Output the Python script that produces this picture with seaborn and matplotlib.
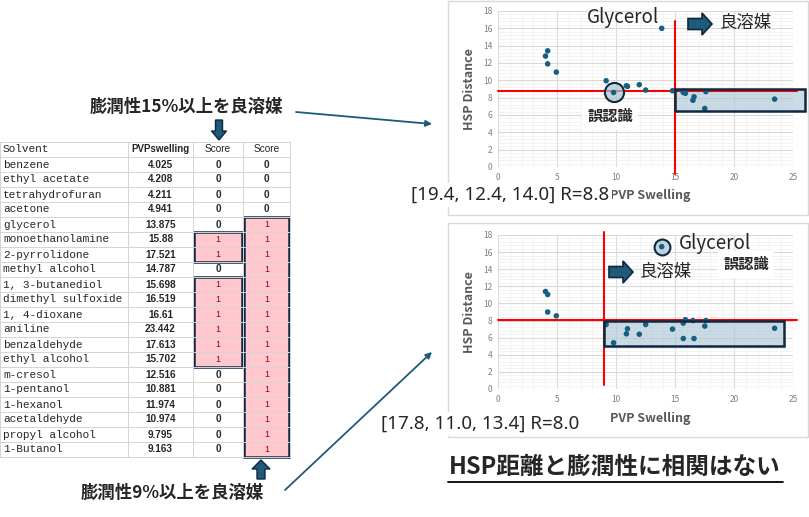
import matplotlib
matplotlib.use('Agg')
import matplotlib.pyplot as plt
import matplotlib.patches as mpatches
from matplotlib.ticker import MultipleLocator
import seaborn as sns
import pandas as pd

# Daten aus der Tabelle
solvents = ['benzene', 'ethyl acetate', 'tetrahydrofuran', 'acetone',
            'glycerol', 'monoethanolamine', '2-pyrrolidone', 'methyl alcohol',
            '1, 3-butanediol', 'dimethyl sulfoxide', '1, 4-dioxane', 'aniline',
            'benzaldehyde', 'ethyl alcohol', 'm-cresol', '1-pentanol',
            '1-hexanol', 'acetaldehyde', 'propyl alcohol', '1-Butanol']
swelling_text = ['4.025', '4.208', '4.211', '4.941', '13.875', '15.88',
                 '17.521', '14.787', '15.698', '16.519', '16.61', '23.442',
                 '17.613', '15.702', '12.516', '10.881', '11.974', '10.974',
                 '9.795', '9.163']
score_15 = [0, 0, 0, 0, 0, 1, 1, 0, 1, 1, 1, 1, 1, 1, 0, 0, 0, 0, 0, 0]
score_9 = [0, 0, 0, 0, 1, 1, 1, 1, 1, 1, 1, 1, 1, 1, 1, 1, 1, 1, 1, 1]
headers = ['Solvent', 'PVPswelling', 'Score', 'Score']

# HSP-Abstand, Zentrum [19.4, 12.4, 14.0]
hsp_dist_a = [12.8, 11.9, 13.4, 10.95, 16.0, 8.5, 6.75, 8.8, 8.75, 7.7,
              8.1, 7.83, 8.7, 8.6, 8.87, 9.37, 9.5, 9.3, 8.6, 9.95]
# HSP-Abstand, Zentrum [17.8, 11.0, 13.4]
hsp_dist_b = [11.4, 9.0, 11.05, 8.55, 16.64, 8.1, 7.35, 7.0, 7.7, 8.0,
              5.9, 7.1, 8.0, 5.9, 7.54, 6.45, 6.4, 7.04, 5.4, 7.54]

swelling = [float(s) for s in swelling_text]
df = pd.DataFrame({'Solvent': solvents, 'PVP Swelling': swelling,
                   'dist_a': hsp_dist_a, 'dist_b': hsp_dist_b})

sns.set_theme(style='white')
plt.rcParams['font.family'] = ['Noto Sans CJK JP', 'DejaVu Sans']

W, H = 809, 517
fig = plt.figure(figsize=(W / 100, H / 100), dpi=100)
fig.patch.set_facecolor('white')

# Hintergrund-Achse in Pixelkoordinaten
bg = fig.add_axes([0, 0, 1, 1], zorder=-1)
bg.set_xlim(0, W)
bg.set_ylim(H, 0)
bg.axis('off')

NAVY = '#0e2841'
TEAL = '#1f5a78'
DOT = '#156082'
PINK = '#ffc7ce'
DARKRED = '#9c0006'

# Tabelle
col_edges = [0, 128, 193, 243, 290]
TOP = 142
ROW_H = 15
n_rows = len(solvents) + 1


def row_y(i):
    return TOP + ROW_H * i


for c, scores in [(2, score_15), (3, score_9)]:
    for i, s in enumerate(scores):
        if s == 1:
            bg.add_patch(mpatches.Rectangle(
                (col_edges[c], row_y(i + 1)), col_edges[c + 1] - col_edges[c],
                ROW_H, facecolor=PINK, edgecolor='none'))

for k in range(n_rows + 1):
    bg.plot([0, col_edges[-1]], [row_y(k), row_y(k)], color='#d4d4d4', lw=0.7)
for x in col_edges:
    bg.plot([x, x], [row_y(0), row_y(n_rows)], color='#d4d4d4', lw=0.7)

for c, h in enumerate(headers):
    if c == 0:
        bg.text(3, row_y(0) + ROW_H / 2, h, family='Liberation Mono',
                fontsize=8, va='center', ha='left')
    else:
        bg.text((col_edges[c] + col_edges[c + 1]) / 2, row_y(0) + ROW_H / 2,
                h, family='Liberation Sans', fontsize=7.3 if c > 1 else 7,
                weight='bold' if c == 1 else 'normal', va='center',
                ha='center')


def score_text(ax, x, y, s):
    if s == 1:
        ax.text(x, y, '1', family='Liberation Sans', fontsize=6.5,
                color=DARKRED, va='center', ha='center')
    else:
        ax.text(x, y, '0', family='Liberation Sans', fontsize=7.2,
                weight='bold', va='center', ha='center')


for i in range(len(solvents)):
    yc = row_y(i + 1) + ROW_H / 2
    bg.text(3, yc, solvents[i], family='Liberation Mono', fontsize=8,
            va='center', ha='left')
    bg.text((col_edges[1] + col_edges[2]) / 2, yc, swelling_text[i],
            family='Liberation Sans', fontsize=7.2, weight='bold',
            va='center', ha='center')
    score_text(bg, (col_edges[2] + col_edges[3]) / 2, yc, score_15[i])
    score_text(bg, (col_edges[3] + col_edges[4]) / 2, yc, score_9[i])

# Rahmen um zusammenhängende 1er-Blöcke
for c, scores in [(2, score_15), (3, score_9)]:
    start = None
    for i, s in enumerate(scores + [0]):
        if s == 1 and start is None:
            start = i
        elif s != 1 and start is not None:
            bg.add_patch(mpatches.Rectangle(
                (col_edges[c] + 1, row_y(start + 1)),
                col_edges[c + 1] - col_edges[c] - 2,
                ROW_H * (i - start), fill=False, edgecolor=NAVY, lw=1.8))
            start = None

# Rahmen der Diagramme
bg.add_patch(mpatches.Rectangle((448, 1), 360, 214, fill=False,
                                edgecolor='#d9d9d9', lw=1))
bg.add_patch(mpatches.Rectangle((448, 223), 360, 214, fill=False,
                                edgecolor='#d9d9d9', lw=1))


def style_chart(ax, xlabel_y):
    ax.set_xlim(0, 25)
    ax.set_ylim(0, 18)
    ax.xaxis.set_major_locator(MultipleLocator(5))
    ax.yaxis.set_major_locator(MultipleLocator(2))
    ax.xaxis.set_minor_locator(MultipleLocator(1))
    ax.yaxis.set_minor_locator(MultipleLocator(0.4))
    ax.grid(which='major', color='#d9d9d9', lw=0.8)
    ax.grid(which='minor', color='#efefef', lw=0.5)
    ax.set_axisbelow(True)
    for sp in ax.spines.values():
        sp.set_visible(False)
    ax.tick_params(which='both', length=0, labelsize=6,
                   labelcolor='#7f7f7f', pad=4)
    ax.set_xlabel('PVP Swelling', fontsize=9, weight='bold', color='#595959')
    ax.set_ylabel('HSP Distance', fontsize=9, weight='bold', color='#595959')
    ax.yaxis.set_label_coords(-0.075, 0.5)
    ax.xaxis.set_label_coords(0.515, xlabel_y)


# Diagramm oben (Schwelle 15 %)
ax1 = fig.add_axes([498 / W, 1 - 167 / H, 295 / W, 156 / H])
ax1.add_patch(mpatches.Rectangle((15, 6.45), 11, 2.5, facecolor='#a9c4d4',
                                 alpha=0.6, edgecolor='none', clip_on=False,
                                 zorder=2))
ax1.add_patch(mpatches.Rectangle((15, 6.45), 11, 2.5, fill=False,
                                 edgecolor=NAVY, lw=1.8, clip_on=False,
                                 zorder=4))
ax1.plot([0, 25.3], [8.8, 8.8], color='#ff0000', lw=1.5, clip_on=False,
         zorder=2.5)
ax1.plot([15, 15], [-0.8, 16.9], color='#ff0000', lw=1.5, clip_on=False,
         zorder=2.5)
i_prop = solvents.index('propyl alcohol')
ax1.scatter([swelling[i_prop]], [hsp_dist_a[i_prop]], s=190,
            facecolor=(0.66, 0.77, 0.83, 0.7), edgecolor=NAVY, lw=1.5,
            zorder=2.6)
sns.scatterplot(x='PVP Swelling', y='dist_a', data=df, ax=ax1, color=DOT,
                s=16, edgecolor='none', legend=False, zorder=3,
                clip_on=False)
style_chart(ax1, -0.14)

# Diagramm unten (Schwelle 9 %)
ax2 = fig.add_axes([498 / W, 1 - 389 / H, 295 / W, 154 / H])
ax2.add_patch(mpatches.Rectangle((9, 5.05), 15.25, 2.95, facecolor='#a9c4d4',
                                 alpha=0.6, edgecolor='none', clip_on=False,
                                 zorder=2))
ax2.add_patch(mpatches.Rectangle((9, 5.05), 15.25, 2.95, fill=False,
                                 edgecolor=NAVY, lw=1.8, clip_on=False,
                                 zorder=4))
ax2.plot([0, 25.3], [8.1, 8.1], color='#ff0000', lw=1.5, clip_on=False,
         zorder=2.5)
ax2.plot([9, 9], [0.5, 18.4], color='#ff0000', lw=1.5, clip_on=False,
         zorder=2.5)
i_gly = solvents.index('glycerol')
ax2.scatter([swelling[i_gly]], [hsp_dist_b[i_gly]], s=130,
            facecolor=(0.66, 0.77, 0.83, 0.7), edgecolor=NAVY, lw=1.5,
            zorder=2.6, clip_on=False)
sns.scatterplot(x='PVP Swelling', y='dist_b', data=df, ax=ax2, color=DOT,
                s=16, edgecolor='none', legend=False, zorder=3,
                clip_on=False)
style_chart(ax2, -0.15)

# Vordergrund für Beschriftungen
fg = fig.add_axes([0, 0, 1, 1], zorder=10)
fg.set_xlim(0, W)
fg.set_ylim(H, 0)
fg.axis('off')

white_box = dict(facecolor='white', edgecolor='none', pad=2)

fg.text(623, 18, 'Glycerol', fontsize=13.5, ha='center', va='center')
fg.add_patch(mpatches.FancyArrow(688, 24, 14, 0, width=11, head_width=22,
                                 head_length=10, length_includes_head=False,
                                 facecolor=TEAL, edgecolor=NAVY, lw=1.2))
fg.text(746, 23, '良溶媒', fontsize=12.5, ha='center', va='center')
fg.text(610, 116, '誤認識', fontsize=11, weight='bold', ha='center',
        va='center', bbox=dict(facecolor='white', edgecolor='none', pad=4))
fg.text(510, 195, '[19.4, 12.4, 14.0] R=8.8', fontsize=13.5,
        family=['Noto Sans', 'DejaVu Sans'], ha='center', va='center',
        bbox=white_box)

fg.text(715, 243, 'Glycerol', fontsize=13.5, ha='center', va='center')
fg.text(746, 264, '誤認識', fontsize=11, weight='bold', ha='center',
        va='center', bbox=dict(facecolor='white', edgecolor='none', pad=4))
fg.add_patch(mpatches.FancyArrow(609, 272, 14, 0, width=11, head_width=22,
                                 head_length=10, length_includes_head=False,
                                 facecolor=TEAL, edgecolor=NAVY, lw=1.2))
fg.text(666, 272, '良溶媒', fontsize=12.5, ha='center', va='center')
fg.text(480, 424, '[17.8, 11.0, 13.4] R=8.0', fontsize=13.5,
        family=['Noto Sans', 'DejaVu Sans'], ha='center', va='center',
        bbox=white_box)

# Hinweise links
fg.text(186, 107, '膨潤性15%以上を良溶媒', fontsize=12.5, weight='bold',
        ha='center', va='center')
fg.add_patch(mpatches.FancyArrow(219, 120, 0, 11, width=7, head_width=15,
                                 head_length=9, facecolor=TEAL,
                                 edgecolor=NAVY, lw=1))
fg.annotate('', xy=(432, 124), xytext=(296, 112),
            arrowprops=dict(arrowstyle='-|>', color=TEAL, lw=1.3,
                            mutation_scale=9, shrinkA=0, shrinkB=0))

fg.text(172, 493, '膨潤性9%以上を良溶媒', fontsize=12.5, weight='bold',
        ha='center', va='center')
fg.add_patch(mpatches.FancyArrow(261, 479, 0, -10, width=8, head_width=18,
                                 head_length=9, facecolor=TEAL,
                                 edgecolor=NAVY, lw=1))
fg.annotate('', xy=(432, 352), xytext=(285, 490),
            arrowprops=dict(arrowstyle='-|>', color=TEAL, lw=1.3,
                            mutation_scale=9, shrinkA=0, shrinkB=0))

# Fazit
fg.text(615, 467, 'HSP距離と膨潤性に相関はない', fontsize=17, weight='bold',
        ha='center', va='center')
fg.plot([448, 783], [482, 482], color='black', lw=1.3)

fig.savefig('out.png', dpi=100)
